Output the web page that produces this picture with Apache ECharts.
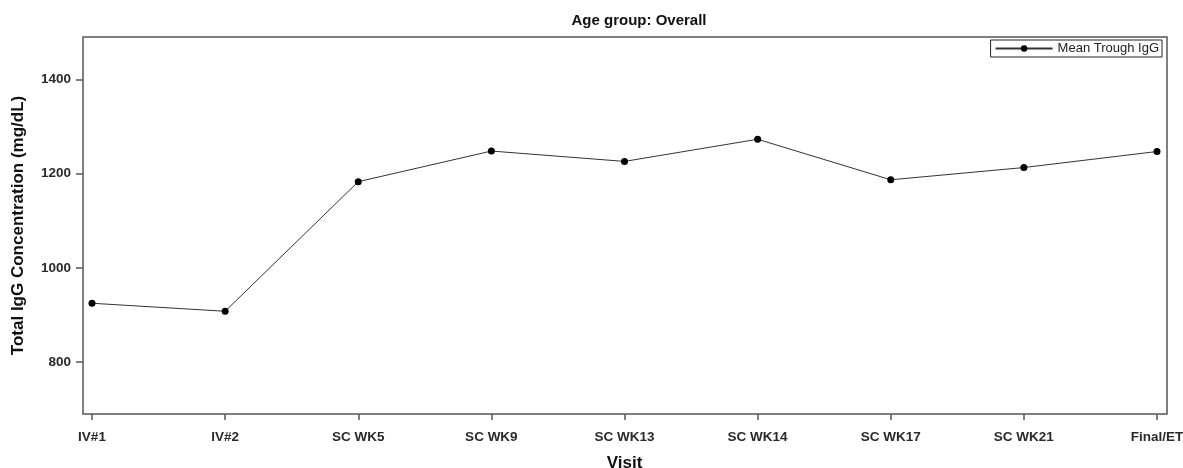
<!DOCTYPE html>
<html>
<head>
<meta charset="utf-8">
<script src="https://cdn.jsdelivr.net/npm/echarts@6/dist/echarts.min.js"></script>
<style>
  html, body { margin: 0; padding: 0; background: #fff; }
  #chart { width: 1183px; height: 468px; }
</style>
</head>
<body>
<div id="chart"></div>
<script>
// Visits along the x axis
const visits = ['IV#1', 'IV#2', 'SC WK5', 'SC WK9', 'SC WK13', 'SC WK14', 'SC WK17', 'SC WK21', 'Final/ET'];
// Mean trough total IgG (mg/dL) per visit
const meanTroughIgG = [925, 908, 1183, 1248, 1226, 1273, 1187, 1213, 1247];
// Y axis tick values
const yTicks = [800, 1000, 1200, 1400];

const FONT = '"Liberation Sans", Arial, sans-serif';
const AXIS_COLOR = '#555';
const TICK_FONT = { fontFamily: FONT, fontSize: 13.5, fontWeight: 'bold', color: '#2a2a2a' };

const chart = echarts.init(document.getElementById('chart'), null, { renderer: 'canvas' });

chart.setOption({
  animation: false,
  backgroundColor: '#fff',
  title: {
    text: 'Age group: Overall',
    left: 634,
    top: 8,
    textAlign: 'center',
    textStyle: { fontFamily: FONT, fontSize: 15, fontWeight: 'bold', color: '#111' }
  },
  legend: {
    right: 21,
    top: 40,
    orient: 'horizontal',
    padding: [2, 3, 2, 4],
    borderColor: '#222',
    borderWidth: 1,
    itemWidth: 57,
    itemHeight: 8,
    itemGap: 4,
    textStyle: { fontFamily: FONT, fontSize: 13, color: '#222' },
    data: ['Mean Trough IgG']
  },
  grid: [
    // outer frame of the plot area
    { left: 83, right: 16, top: 37, bottom: 54, outerBoundsMode: 'none', show: true, borderColor: AXIS_COLOR, borderWidth: 1.5, backgroundColor: 'transparent' },
    // data area, inset slightly from the frame
    { left: 92, right: 26, top: 37, bottom: 54, outerBoundsMode: 'none' }
  ],
  xAxis: [
    { gridIndex: 0, type: 'value', show: false, min: 0, max: 1 },
    {
      gridIndex: 1,
      type: 'category',
      data: visits,
      boundaryGap: false,
      name: 'Visit',
      nameLocation: 'middle',
      nameGap: 41,
      nameTextStyle: { fontFamily: FONT, fontSize: 17, fontWeight: 'bold', color: '#111' },
      axisLine: { show: false },
      axisTick: { show: true, length: 6, lineStyle: { color: AXIS_COLOR, width: 1.5 } },
      axisLabel: Object.assign({ margin: 16, interval: 0 }, TICK_FONT),
      splitLine: { show: false }
    }
  ],
  yAxis: [
    { gridIndex: 0, type: 'value', show: false, min: 0, max: 1 },
    {
      gridIndex: 1,
      type: 'value',
      min: 690,
      max: 1490,
      offset: 9,
      name: 'Total IgG Concentration (mg/dL)',
      nameLocation: 'middle',
      nameGap: 56,
      nameTextStyle: { fontFamily: FONT, fontSize: 17, fontWeight: 'bold', color: '#111' },
      axisLine: { show: false },
      axisTick: { show: true, length: 7, customValues: yTicks, lineStyle: { color: AXIS_COLOR, width: 1.5 } },
      axisLabel: Object.assign({ margin: 12, customValues: yTicks, formatter: v => String(v) }, TICK_FONT),
      splitLine: { show: false }
    }
  ],
  series: [
    {
      name: 'Mean Trough IgG',
      type: 'line',
      xAxisIndex: 1,
      yAxisIndex: 1,
      data: meanTroughIgG,
      symbol: 'circle',
      symbolSize: 7,
      showAllSymbol: true,
      itemStyle: { color: '#000' },
      lineStyle: { color: '#333', width: 1 }
    }
  ]
});
</script>
</body>
</html>
